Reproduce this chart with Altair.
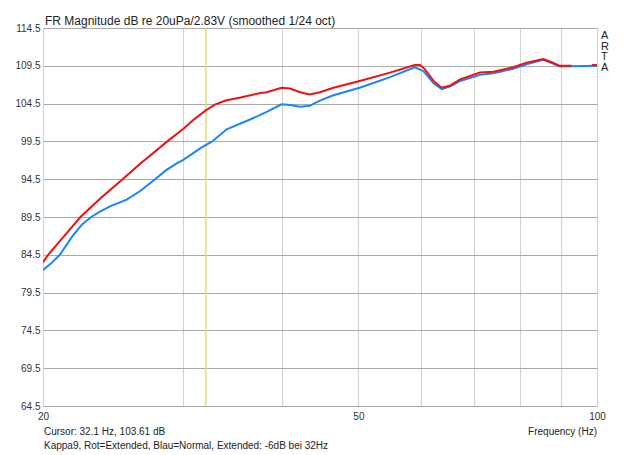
import altair as alt
import pandas as pd

# Red curve (Rot = Extended)
red_f = [20.0, 20.3, 21.2, 22.3, 23.6, 25.2, 26.5, 28.7, 30.1, 31.0, 32.1, 33.0, 34.0, 34.7, 35.5, 37.6,
         38.3, 40.0, 41.0, 42.2, 43.4, 44.7, 46.5, 50.2, 54.8, 58.9, 59.8, 60.6, 62.2, 63.7, 65.3, 67.2,
         71.2, 74.0, 78.4, 81.5, 85.5, 87.5, 89.8, 92.9, 98.5, 100.0]
red_db = [83.5, 84.5, 86.8, 89.5, 91.9, 94.5, 96.5, 99.5, 101.2, 102.4, 103.6, 104.4, 104.9, 105.1, 105.3, 105.9,
          106.0, 106.6, 106.5, 106.0, 105.7, 106.0, 106.6, 107.5, 108.6, 109.6, 109.6, 109.1, 107.5, 106.6, 106.9, 107.7,
          108.6, 108.7, 109.3, 109.9, 110.4, 110.0, 109.5, 109.5, 109.6, 109.6]
red_seg = [0] * 40 + [1, 1]

# Blue curve (Blau = Normal)
blue_f = [20.0, 20.5, 21.0, 21.8, 22.4, 23.0, 23.6, 24.3, 25.5, 26.5, 27.7, 28.6, 29.5, 30.1, 31.6, 32.7,
          34.1, 36.5, 37.6, 38.3, 40.0, 41.0, 42.2, 43.4, 44.7, 46.5, 50.2, 54.8, 58.9, 60.4, 62.2,
          63.7, 65.3, 67.2, 71.2, 74.0, 78.4, 81.5, 85.5, 87.5, 89.8, 100.0]
blue_db = [82.5, 83.4, 84.5, 87.0, 88.5, 89.5, 90.2, 90.9, 91.8, 92.9, 94.5, 95.7, 96.6, 97.1, 98.6, 99.5,
           101.1, 102.4, 103.0, 103.4, 104.4, 104.3, 104.1, 104.2, 104.9, 105.6, 106.6, 108.0, 109.3, 108.8, 107.2,
           106.4, 106.8, 107.5, 108.3, 108.5, 109.1, 109.7, 110.3, 109.9, 109.4, 109.5]

y_ticks = [64.5, 69.5, 74.5, 79.5, 84.5, 89.5, 94.5, 99.5, 104.5, 109.5, 114.5]
x_grid = [20, 30, 40, 50, 60, 70, 80, 90, 100]
x_labels = [20, 50, 100]
cursor_f = [32.1]

title_text = "FR Magnitude dB re 20uPa/2.83V (smoothed 1/24 oct)"
cursor_text = "Cursor: 32.1 Hz, 103.61 dB"
note_text = "Kappa9, Rot=Extended, Blau=Normal, Extended: -6dB bei 32Hz"
xlabel_text = "Frequency (Hz)"
arta_text = "A\nR\nT\nA"

FONT = "Liberation Sans"
W, H = 554, 378

red = pd.DataFrame({"f": red_f, "db": red_db, "seg": red_seg})
blue = pd.DataFrame({"f": blue_f, "db": blue_db})

xs = alt.Scale(type="log", domain=[20, 100], nice=False)
ys = alt.Scale(domain=[64.5, 114.5], nice=False, zero=False)

label_expr = "indexof([" + ",".join(str(v) for v in x_labels) + "], datum.value) >= 0 ? datum.label : ''"

x_axis = alt.Axis(values=x_grid, format="d", labelExpr=label_expr, title=None, tickCount=20,
                  grid=True, gridColor="#d4d4d4", gridWidth=1.2, domain=False, ticks=False,
                  labelFont=FONT, labelFontSize=10, labelColor="#333333", labelPadding=5,
                  labelFlush=False, labelOverlap=False)
y_axis = alt.Axis(values=y_ticks, format=".1f", title=None, tickCount=20,
                  grid=True, gridColor="#a9a9a9", gridWidth=1.2, domain=False, ticks=False,
                  labelFont=FONT, labelFontSize=10, labelColor="#333333", labelPadding=3,
                  labelOverlap=False)

blue_line = alt.Chart(blue).mark_line(color="#1a84ff", strokeWidth=2, clip=True).encode(
    x=alt.X("f:Q", scale=xs, axis=x_axis),
    y=alt.Y("db:Q", scale=ys, axis=y_axis),
)
red_line = alt.Chart(red).mark_line(color="#f01010", strokeWidth=2, clip=True).encode(
    x=alt.X("f:Q", scale=xs),
    y=alt.Y("db:Q", scale=ys),
    detail="seg:N",
)
cursor = alt.Chart(pd.DataFrame({"f": cursor_f})).mark_rule(color="#e0dc50", strokeWidth=1.4).encode(
    x=alt.X("f:Q", scale=xs)
)

one = pd.DataFrame({"a": [0]})
def txt(s, x, y, align="left", size=10):
    return alt.Chart(one).mark_text(align=align, baseline="middle", font=FONT, fontSize=size,
                                    color="#222222").encode(
        x=alt.value(x), y=alt.value(y), text=alt.value(s))

texts = [
    txt(title_text, 2, -7.5, size=12),
    txt(cursor_text, 1, 403.7),
    txt(xlabel_text, W, 404.3, align="right"),
    txt(note_text, 1, 417.7),
    alt.Chart(one).mark_text(align="left", baseline="top", font=FONT, fontSize=11, color="#222222",
                             lineBreak="\n", lineHeight=10.5).encode(
        x=alt.value(558), y=alt.value(2), text=alt.value(arta_text)),
]

chart = alt.layer(cursor, blue_line, red_line, *texts).properties(
    width=W, height=H,
    autosize=alt.AutoSizeParams(type="none"),
    padding={"left": 35, "top": 20, "right": 23, "bottom": 49},
).configure_view(stroke="#6a6a6a", strokeWidth=1.2).configure(background="white")

chart.save("out.html", embed_options={"renderer": "svg", "actions": False})
